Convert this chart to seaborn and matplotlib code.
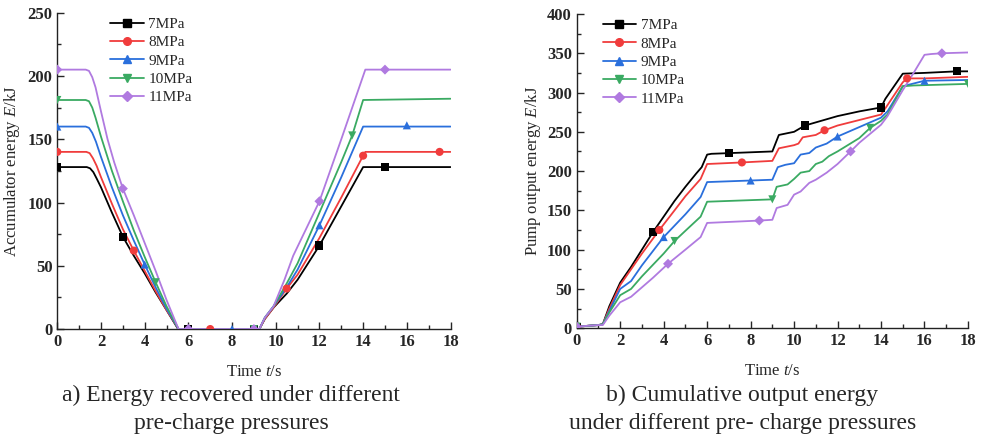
import numpy as np
import matplotlib
matplotlib.use("Agg")
import matplotlib.pyplot as plt
from matplotlib.lines import Line2D
from matplotlib.ticker import MultipleLocator
import seaborn as sns

# --- series labels and styles ---
labels = ["7MPa", "8MPa", "9MPa", "10MPa", "11MPa"]
colors = ["#000000", "#f03c3c", "#2a6fdc", "#3aaa62", "#b07ae0"]
markers = ["s", "o", "^", "v", "D"]

# --- (a) accumulator energy ---
acc_x = [
    [0, 1.35, 1.5, 1.65, 1.8, 2, 2.5, 3, 3.5, 4, 4.5, 5, 5.53, 9.25, 9.5, 9.9, 10.5, 11, 12, 13, 14, 18],
    [0, 1.33, 1.48, 1.63, 1.8, 2, 2.5, 3, 3.5, 4, 4.5, 5, 5.55, 9.25, 9.5, 9.9, 10.5, 11, 12, 13, 14, 14.1, 18],
    [0, 1.3, 1.45, 1.6, 1.77, 2, 2.5, 3, 3.5, 4, 4.5, 5, 5.55, 9.25, 9.5, 9.9, 10.5, 11, 12, 13, 14, 18],
    [0, 1.3, 1.45, 1.6, 1.75, 2, 2.5, 3, 3.5, 4, 4.5, 5, 5.55, 9.25, 9.5, 9.9, 10.5, 11, 12, 13, 13.5, 14, 18],
    [0, 1.3, 1.45, 1.6, 1.75, 2, 2.3, 2.6, 3, 3.5, 4, 4.5, 5, 5.55, 9.25, 9.5, 9.9, 10.4, 10.8, 12, 13, 14.1, 18],
]
acc_y = [
    [128, 128, 127, 124, 119, 112, 92, 73, 58, 44, 29, 15, 0, 0, 8, 17, 28, 39, 66, 97, 128, 128],
    [140, 140, 139, 135, 129, 120, 99, 79, 62, 46, 30, 15, 0, 0, 8, 17, 32, 43, 72, 104, 137, 140, 140],
    [160, 160, 159, 155, 148, 136, 112, 90, 70, 51, 33, 16, 0, 0, 9, 18, 33, 47, 82, 120, 160, 160],
    [181, 181, 180, 175, 167, 152, 125, 101, 78, 57, 37, 18, 0, 0, 9, 18, 36, 52, 92, 132, 153, 181, 182],
    [205, 205, 204, 199, 191, 172, 150, 132, 111, 90, 68, 46, 23, 0, 0, 9, 18, 39, 58, 101, 150, 205, 205],
]
acc_mx = [
    [0, 3, 6, 9, 12, 15],
    [0, 3.5, 7, 10.5, 14, 17.5],
    [0, 4, 8, 12, 16],
    [0, 4.5, 9, 13.5],
    [0, 3, 6, 9, 12, 15],
]
acc_my = [
    [128, 73, 0, 0, 66, 128],
    [140, 62, 0, 32, 137, 140],
    [160, 51, 0, 82, 161],
    [181, 37, 0, 153],
    [205, 111, 0, 0, 101, 205],
]

# --- (b) pump output energy ---
pump_x = [
    [0, 1, 1.2, 1.5, 2, 2.5, 3, 3.5, 4, 4.5, 5, 5.5, 5.75, 6, 6.2, 9, 9.3, 10, 10.5, 11, 11.5, 12, 13, 14, 14.2, 15, 16, 17.5, 18],
    [0, 1, 1.2, 1.5, 2, 3, 3.8, 4.5, 5, 5.7, 6, 7.6, 9, 9.3, 10, 10.2, 10.4, 11, 11.4, 12, 13, 14, 14.2, 15, 15.2, 16, 18],
    [0, 1, 1.2, 1.5, 2, 2.5, 3, 4, 5, 5.7, 6, 8, 9, 9.25, 9.6, 10, 10.3, 10.7, 11, 11.5, 12, 13, 14, 14.3, 15, 16, 18],
    [0, 1, 1.2, 1.5, 2, 2.5, 3, 4, 4.5, 5, 5.7, 6, 9, 9.2, 9.7, 10, 10.3, 10.7, 11, 11.3, 11.6, 12, 13, 13.5, 14, 14.3, 15, 15.5, 18],
    [0, 1, 1.2, 1.5, 2, 2.5, 3, 3.5, 4.2, 5, 5.7, 6, 8.4, 9, 9.2, 9.7, 10, 10.3, 10.7, 11, 11.5, 12, 12.6, 13, 14, 14.3, 15, 15.5, 16, 16.3, 16.8, 18],
]
pump_y = [
    [2, 4, 5, 28, 58, 78, 100, 122, 142, 162, 180, 197, 205, 221, 222, 225, 246, 250, 258, 262, 266, 270, 276, 281, 292, 324, 325, 327, 327],
    [2, 4, 5, 25, 55, 95, 125, 150, 168, 190, 209, 211, 213, 229, 233, 235, 243, 246, 252, 258, 265, 272, 280, 313, 318, 318, 320],
    [2, 4, 5, 22, 50, 60, 80, 116, 145, 167, 186, 188, 189, 205, 208, 210, 221, 223, 230, 235, 244, 256, 268, 276, 308, 315, 316],
    [2, 4, 5, 20, 42, 50, 66, 95, 111, 124, 142, 161, 164, 180, 183, 190, 198, 200, 209, 212, 219, 225, 242, 255, 264, 272, 308, 309, 311],
    [2, 4, 4, 16, 33, 40, 52, 64, 82, 100, 116, 134, 137, 138, 153, 157, 170, 174, 185, 189, 198, 209, 225, 236, 259, 270, 303, 325, 348, 349, 350, 351],
]
pump_mx = [
    [0, 3.5, 7, 10.5, 14, 17.5],
    [0, 3.8, 7.6, 11.4, 15.2],
    [0, 4, 8, 12, 16],
    [0, 4.5, 9, 13.5, 18],
    [0, 4.2, 8.4, 12.6, 16.8],
]
pump_my = [
    [2, 122, 223, 258, 281, 327],
    [2, 125, 211, 252, 318],
    [2, 116, 188, 244, 315],
    [2, 111, 164, 255, 311],
    [2, 82, 137, 225, 350],
]

sns.set_theme(style="ticks")
plt.rcParams["font.family"] = ["Liberation Serif", "DejaVu Serif"]
plt.rcParams["mathtext.fontset"] = "custom"
plt.rcParams["mathtext.it"] = "Liberation Serif:italic"
plt.rcParams["mathtext.rm"] = "Liberation Serif"

fig = plt.figure(figsize=(9.83, 4.37), dpi=100)
ax1 = fig.add_axes([0.0583, 0.247, 0.400, 0.724])
ax2 = fig.add_axes([0.5867, 0.249, 0.398, 0.719])


def draw(ax, xs, ys, mxs, mys, leg_x):
    for i in range(len(labels)):
        sns.lineplot(x=xs[i], y=ys[i], ax=ax, color=colors[i], lw=1.3,
                     sort=False, estimator=None, zorder=2 + i)
        sns.scatterplot(x=mxs[i], y=mys[i], ax=ax, color=colors[i],
                        marker=markers[i], s=34 if markers[i] != "D" else 26,
                        edgecolor="none", linewidth=0, zorder=10 + i)
    handles = [Line2D([], [], color=colors[i], lw=1.3, marker=markers[i],
                      markersize=5.5 if markers[i] != "D" else 5)
               for i in range(len(labels))]
    ax.legend(handles, labels, loc="upper left", bbox_to_anchor=(leg_x, 0.985),
              frameon=False, fontsize=11, handlelength=2.2, handletextpad=0.3,
              labelspacing=0.3, borderaxespad=0, borderpad=0)
    ax.set_xlim(0, 18)
    ax.xaxis.set_major_locator(MultipleLocator(2))
    ax.xaxis.set_minor_locator(MultipleLocator(1))
    ax.yaxis.set_major_locator(MultipleLocator(50))
    ax.yaxis.set_minor_locator(MultipleLocator(25))
    ax.tick_params(axis="both", which="major", direction="in", length=5, width=1,
                   labelsize=12)
    ax.tick_params(axis="both", which="minor", direction="in", length=3, width=1)
    sns.despine(ax=ax)
    for sp in ["left", "bottom"]:
        ax.spines[sp].set_linewidth(1.0)
        ax.spines[sp].set_color("#222222")
    ax.set_xlabel("Time $t$/s", fontsize=12)
    ax.xaxis.set_label_coords(0.5, -0.112)


draw(ax1, acc_x, acc_y, acc_mx, acc_my, 0.134)
ax1.set_ylim(0, 250)
ax1.set_ylabel("Accumulator energy $E$/kJ", fontsize=12)
ax1.yaxis.set_label_coords(-0.09, 0.5)

draw(ax2, pump_x, pump_y, pump_mx, pump_my, 0.066)
ax2.set_ylim(0, 400)
ax2.set_ylabel("Pump output energy $E$/kJ", fontsize=12)
ax2.yaxis.set_label_coords(-0.086, 0.5)

for ax in (ax1, ax2):
    for lab in ax.get_xticklabels() + ax.get_yticklabels():
        lab.set_fontweight("bold")

fig.text(0.235, 1 - 395 / 437, "a) Energy recovered under different",
         ha="center", va="center", fontsize=17)
fig.text(0.235, 1 - 424 / 437, "pre-charge pressures",
         ha="center", va="center", fontsize=17)
fig.text(0.755, 1 - 395 / 437, "b) Cumulative output energy",
         ha="center", va="center", fontsize=17)
fig.text(0.755, 1 - 424 / 437, "under different pre- charge pressures",
         ha="center", va="center", fontsize=17)

fig.savefig("out.png", dpi=100)
